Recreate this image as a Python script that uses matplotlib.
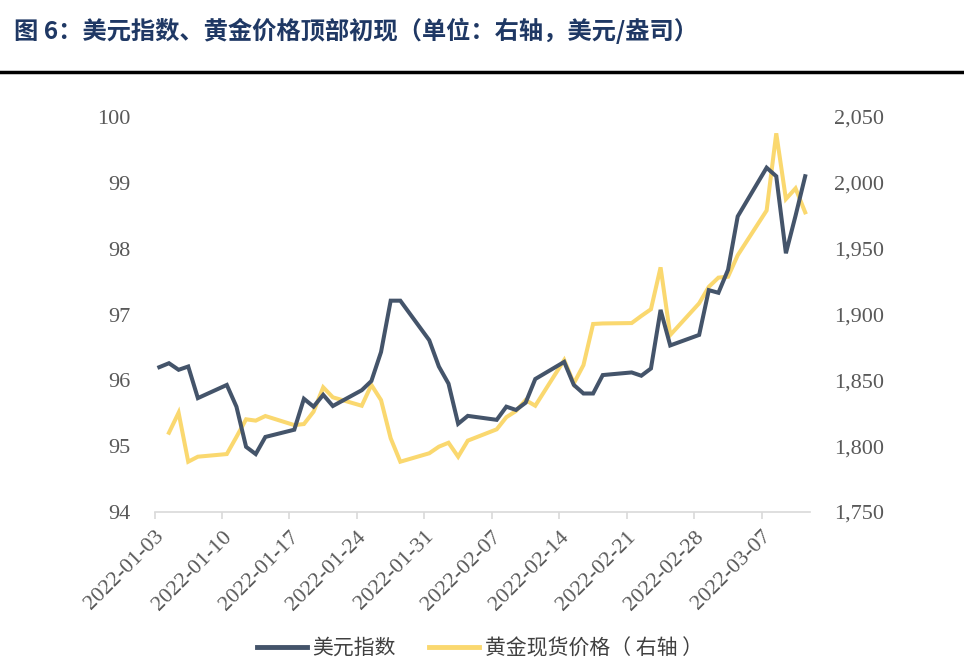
import numpy as np
import pandas as pd
import matplotlib
matplotlib.use("Agg")
from matplotlib import pyplot as plt
import matplotlib.dates as mdates
from matplotlib.lines import Line2D

plt.rcParams['font.family'] = ['Liberation Serif', 'Noto Sans CJK SC', 'DejaVu Sans']

# trading days
dates = ["2022-01-03", "2022-01-04", "2022-01-05", "2022-01-06", "2022-01-07",
         "2022-01-10", "2022-01-11", "2022-01-12", "2022-01-13", "2022-01-14",
         "2022-01-17", "2022-01-18", "2022-01-19", "2022-01-20", "2022-01-21",
         "2022-01-24", "2022-01-25", "2022-01-26", "2022-01-27", "2022-01-28",
         "2022-01-31", "2022-02-01", "2022-02-02", "2022-02-03", "2022-02-04",
         "2022-02-07", "2022-02-08", "2022-02-09", "2022-02-10", "2022-02-11",
         "2022-02-14", "2022-02-15", "2022-02-16", "2022-02-17", "2022-02-18",
         "2022-02-21", "2022-02-22", "2022-02-23", "2022-02-24", "2022-02-25",
         "2022-02-28", "2022-03-01", "2022-03-02", "2022-03-03", "2022-03-04",
         "2022-03-07", "2022-03-08", "2022-03-09", "2022-03-10", "2022-03-11"]

dxy = [96.20, 96.26, 96.16, 96.21, 95.73,
       95.93, 95.60, 94.99, 94.88, 95.14,
       95.25, 95.72, 95.60, 95.78, 95.61,
       95.85, 95.99, 96.43, 97.21, 97.21,
       96.61, 96.21, 95.95, 95.34, 95.46,
       95.40, 95.60, 95.55, 95.66, 96.02,
       96.28, 95.93, 95.80, 95.80, 96.08,
       96.12, 96.07, 96.18, 97.07, 96.53,
       96.69, 97.37, 97.33, 97.68, 98.49,
       99.23, 99.10, 97.93, 98.50, 99.10]

gold = [np.nan, 1810.2, 1825.4, 1788.2, 1792.0,
        1794.0, 1807.0, 1820.4, 1819.4, 1822.9,
        1816.0, 1816.8, 1826.2, 1844.7, 1837.1,
        1830.7, 1846.5, 1835.0, 1806.0, 1788.2,
        1794.6, 1799.6, 1802.6, 1792.0, 1804.2,
        1812.8, 1822.0, 1826.7, 1835.0, 1830.7,
        1865.4, 1847.7, 1861.6, 1892.8, 1893.2,
        1893.5, 1898.9, 1904.0, 1935.8, 1884.4,
        1908.5, 1921.0, 1928.0, 1928.7, 1945.0,
        1979.0, 2037.6, 1987.7, 1995.8, 1977.6]

tick_dates = ["2022-01-03", "2022-01-10", "2022-01-17", "2022-01-24", "2022-01-31",
              "2022-02-07", "2022-02-14", "2022-02-21", "2022-02-28", "2022-03-07"]

dark = "#44546A"
yellow = "#FAD86F"
tick_color = "#595959"

x = pd.to_datetime(dates) + pd.Timedelta(hours=12)

fig = plt.figure(figsize=(9.64, 6.70), dpi=100)
ax = fig.add_axes([154.5 / 964, 1 - 512 / 670, (810 - 154.5) / 964, (512 - 117) / 670])
ax2 = ax.twinx()

ax.plot(x, dxy, color=dark, lw=2.9, solid_joinstyle="miter", zorder=3)
ax2.plot(x, gold, color=yellow, lw=2.9, solid_joinstyle="miter", zorder=2)
ax.set_zorder(ax2.get_zorder() + 1)
ax.patch.set_visible(False)

ax.set_xlim(pd.Timestamp("2022-01-03"), pd.Timestamp("2022-03-12"))
ax.set_ylim(94, 100)
ax2.set_ylim(1750, 2050)
ax.set_yticks(np.arange(94, 101, 1))
ax2.set_yticks(np.arange(1750, 2051, 50))
ax2.yaxis.set_major_formatter(matplotlib.ticker.FuncFormatter(lambda v, p: f"{int(v):,}"))

ax.set_xticks(pd.to_datetime(tick_dates))
ax.xaxis.set_major_formatter(mdates.DateFormatter("%Y-%m-%d"))
for lbl in ax.get_xticklabels():
    lbl.set_rotation(45)
    lbl.set_ha("right")
    lbl.set_rotation_mode("anchor")

for a in (ax, ax2):
    for s in ("top", "left", "right"):
        a.spines[s].set_visible(False)
    a.spines["bottom"].set_color("#D9D9D9")
    a.spines["bottom"].set_linewidth(1.2)
ax2.spines["bottom"].set_visible(False)

ax.tick_params(axis="y", length=0, labelsize=16, labelcolor=tick_color, pad=17)
ax2.tick_params(axis="y", length=0, labelsize=16, labelcolor=tick_color, pad=17)
ax.tick_params(axis="x", length=5, color="#D9D9D9", width=1.2, labelsize=16,
               labelcolor=tick_color, pad=6)

# title and separator
fig.text(14 / 964, 1 - 31 / 670, "图 6：美元指数、黄金价格顶部初现（单位：右轴，美元/盎司）",
         fontsize=17.5, fontweight="bold", color="#1F3864", va="center", ha="left",
         family=["Noto Sans CJK SC", "DejaVu Sans"])
fig.add_artist(Line2D([0, 1], [1 - 72 / 670, 1 - 72 / 670], color="black", lw=2.5))

handles = [Line2D([], [], color=dark, lw=3.5), Line2D([], [], color=yellow, lw=3.5)]
leg = fig.legend(handles, ["美元指数", "黄金现货价格（ 右轴 ）"], loc="center",
                 bbox_to_anchor=(480 / 964, 1 - 648 / 670), ncol=2, frameon=False,
                 handlelength=2.4, handletextpad=0.25, columnspacing=1.6,
                 prop={"family": ["Noto Sans CJK SC", "DejaVu Sans"], "size": 15})
for t in leg.get_texts():
    t.set_color("#404040")

fig.savefig("out.png", dpi=100)
